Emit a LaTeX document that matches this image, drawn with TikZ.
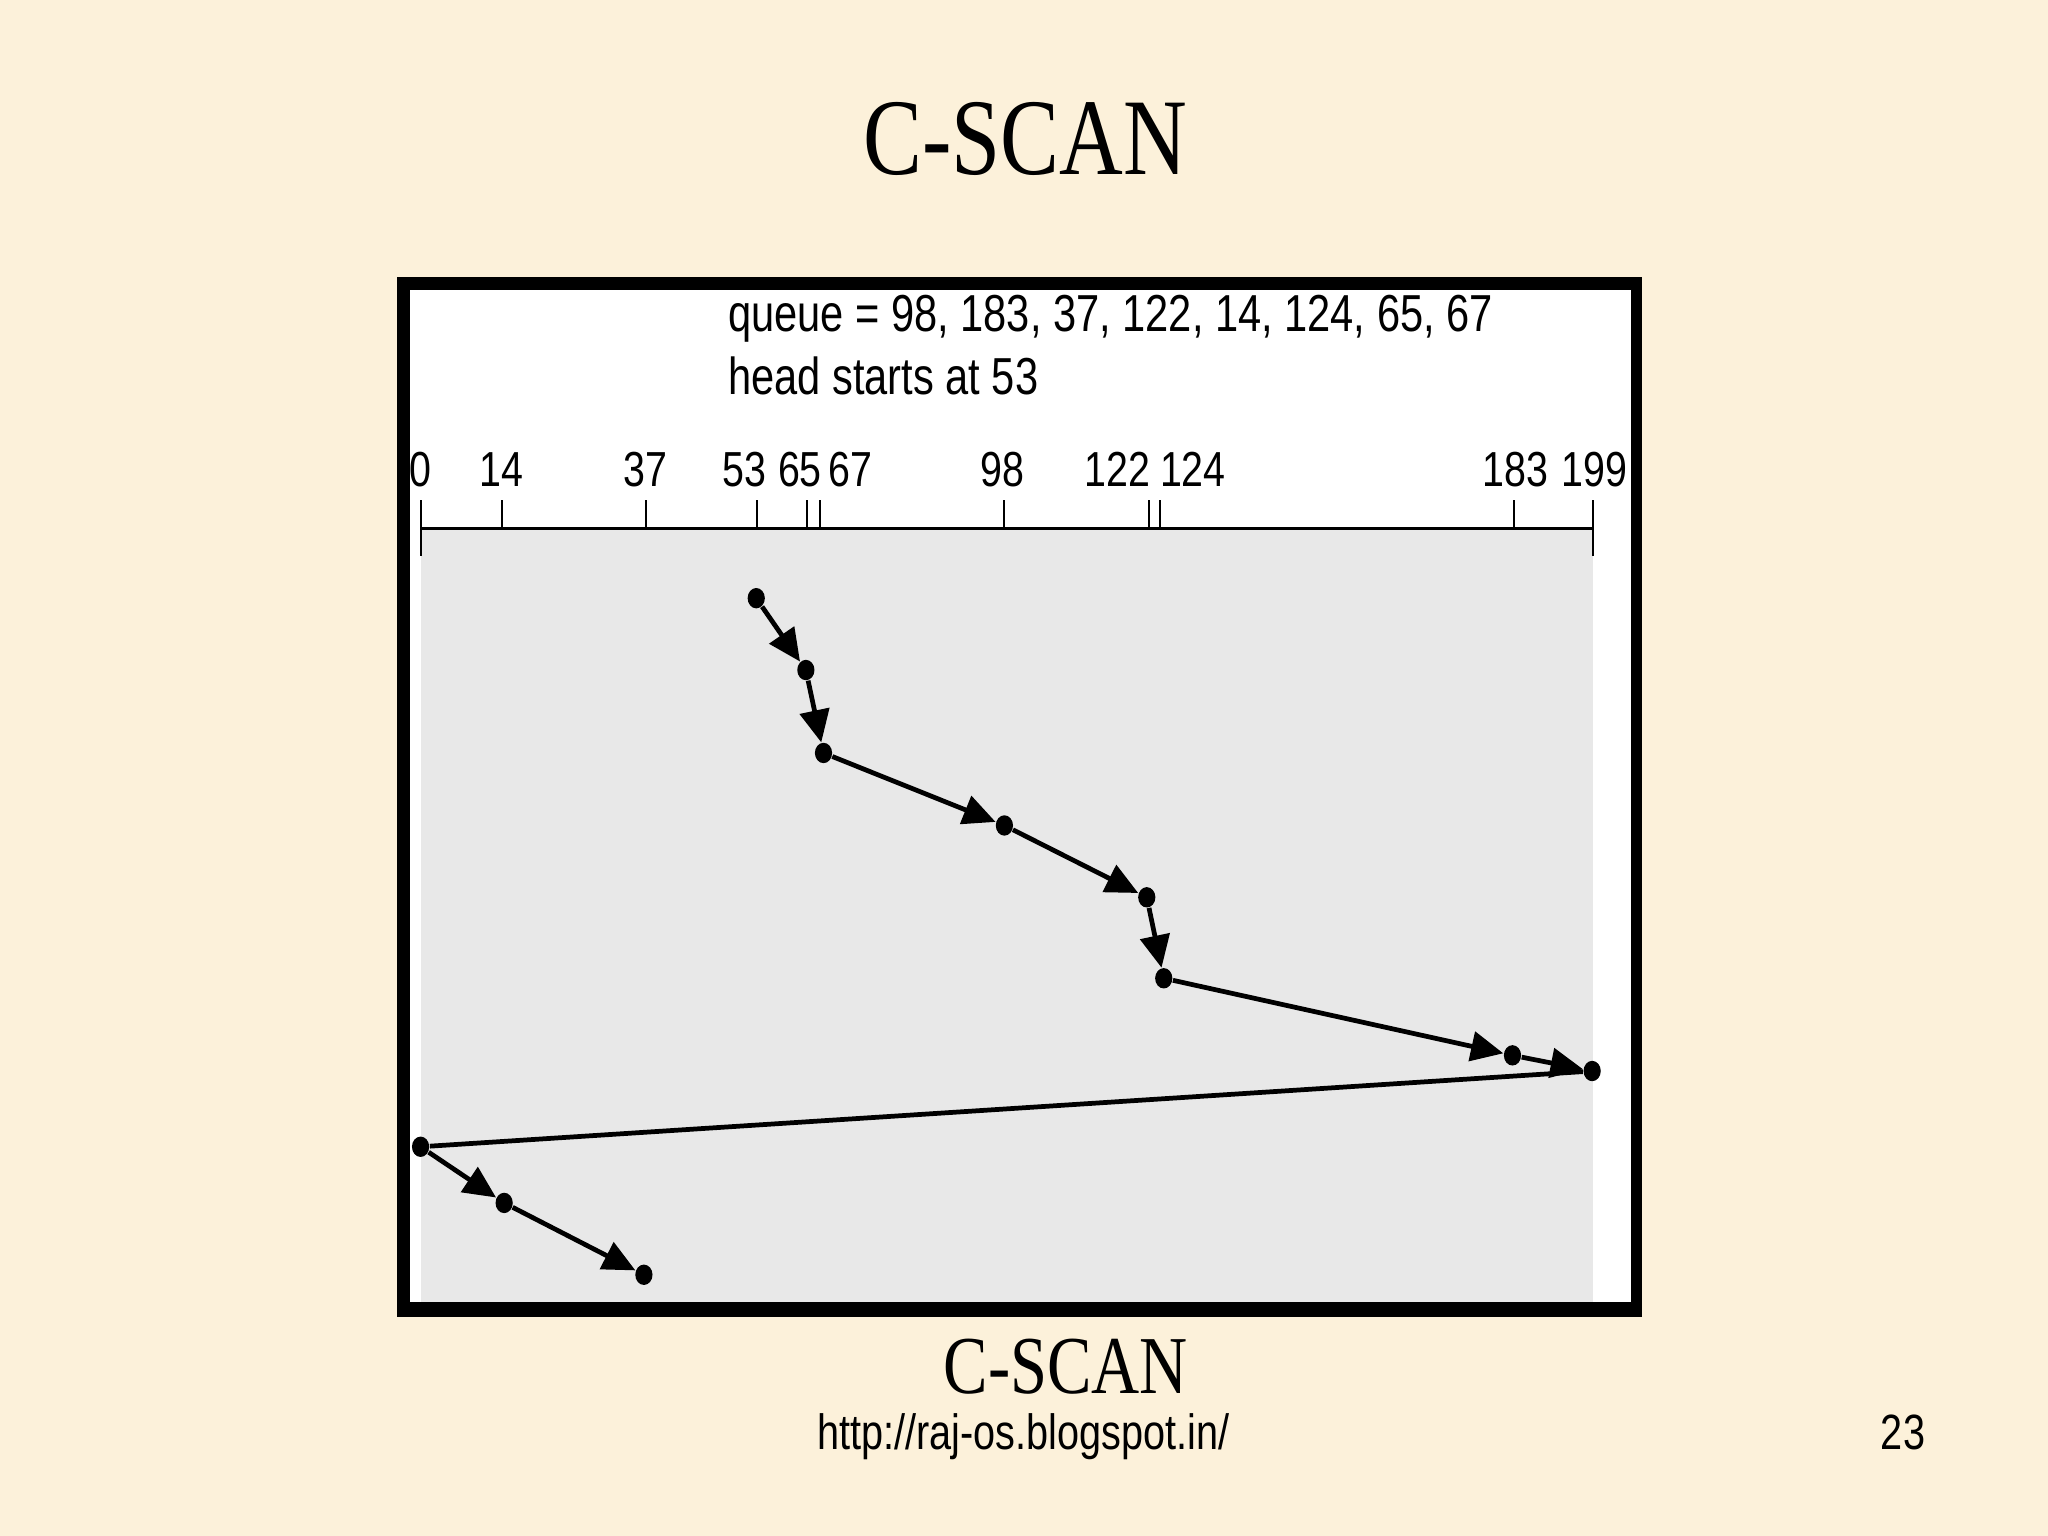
\documentclass[tikz,border=0pt]{standalone}
\usepackage{fontspec}
\setmainfont{Liberation Serif}[FakeStretch=0.81]
\newfontfamily\figfont{Liberation Sans}[FakeStretch=0.8]
\usetikzlibrary{arrows.meta,shapes.geometric}
\definecolor{parchment}{RGB}{252,241,218}
\definecolor{diskgray}{RGB}{232,232,232}
\tikzset{
  cyl/.style={ellipse,fill=black,inner sep=0pt,minimum width=4.9pt,minimum height=5.8pt},
  seek/.style={line width=1.35pt,-{Triangle[length=9.2pt,width=8.4pt]}},
  lbl/.style={font=\figfont\fontsize{14}{14}\selectfont,anchor=base,inner sep=0pt},
  note/.style={font=\figfont\fontsize{14.8}{14.8}\selectfont,anchor=base west,inner sep=0pt}
}
\begin{document}
\begin{tikzpicture}[x=0.13061mm,y=-0.13061mm]
\useasboundingbox (0,0) rectangle (1568,1176);
\fill[parchment] (0,0) rectangle (1568,1176);
\node[anchor=base,inner sep=0pt,font=\fontsize{31}{31}\selectfont] (title) at (785,133.5) {C-SCAN};
\fill[black] (304,212) rectangle (1257,1008);
\fill[white] (314,222) rectangle (1249,997);
\fill[diskgray] (322,404.5) rectangle (1220,997);
\node[note] (queue) at (557,254) {queue = 98, 183, 37, 122, 14, 124, 65, 67};
\node[note] (head) at (557,302) {head starts at 53};
\draw[line width=0.75pt] (322,404.5) -- (1219.5,404.5);
\foreach \c/\x/\lx in {0/322/322,14/384/384,37/494.5/494,53/579.3/570.3,65/618/612.5,67/627.8/651.4,98/768.5/767.4,122/879.7/855.5,124/887.8/913.3,183/1159.3/1160,199/1219.3/1221}
{
  \draw[line width=0.55pt] (\x,383) -- (\x,404.5);
  \node[lbl] (t\c) at (\lx,372.6) {\c};
}
\draw[line width=0.55pt] (322,404.5) -- (322,426);
\draw[line width=0.55pt] (1219.3,404.5) -- (1219.3,426);
\foreach \c/\x/\y in {53/579/458,65/617/513,67/630.5/576.5,98/769/632,122/878/687,124/891/749,183/1158/808,199/1219/820,0/322/878,14/386/921,37/493/976}
  \node[cyl] (c\c) at (\x,\y) {};
\draw[seek] (c53) -- (c65);
\draw[seek] (c65) -- (c67);
\draw[seek] (c67) -- (c98);
\draw[seek] (c98) -- (c122);
\draw[seek] (c122) -- (c124);
\draw[seek] (c124) -- (c183);
\draw[seek] (c183) -- (c199);
\draw[line width=1.35pt] (c199) -- (c0);
\draw[seek] (c0) -- (c14);
\draw[seek] (c14) -- (c37);
\node[anchor=base,inner sep=0pt,font=\fontsize{23.4}{23.4}\selectfont] (caption) at (816,1067) {C-SCAN};
\node[anchor=base west,inner sep=0pt,font=\figfont\fontsize{14.1}{14.1}\selectfont] (url) at (625,1110) {http://raj-os.blogspot.in/};
\node[anchor=base,inner sep=0pt,font=\figfont\fontsize{14.1}{14.1}\selectfont] (page) at (1457,1110) {23};
\end{tikzpicture}
\end{document}
